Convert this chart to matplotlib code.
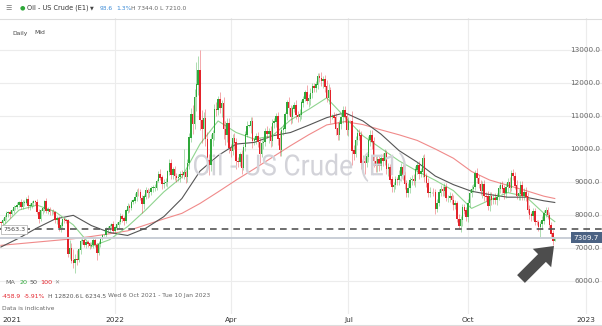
import matplotlib
matplotlib.use("Agg")
import matplotlib.pyplot as plt
from matplotlib.patches import FancyArrow, PathPatch
from matplotlib.lines import Line2D
from matplotlib.textpath import TextPath
from matplotlib.font_manager import FontProperties
from matplotlib.transforms import IdentityTransform, Affine2D, blended_transform_factory
import numpy as np
import pandas as pd

W, H = 602, 326

# daily closes, Wed 6 Oct 2021 .. Thu 8 Dec 2022 (one row = one week)
first_open = 7769
closes = [
    7743, 7830, 7935,
    8052, 8064, 8044, 8131, 8228,
    8244, 8296, 8387, 8250, 8376,
    8376, 8465, 8266, 8281, 8357,
    8405, 8391, 8086, 7881, 8127,
    8193, 8415, 8134, 8159, 8079,
    8088, 8076, 7836, 7901, 7594,
    7675, 7850, 7839, 7830, 6815,
    6995, 6618, 6557, 6650, 6626,
    6949, 7205, 7236, 7094, 7167,
    7129, 7073, 7087, 7238, 7086,
    6861, 7112, 7276, 7379, 7380,
    7557, 7598, 7656, 7699, 7521,
    7608, 7699, 7785, 7946, 7890,
    7823, 8122, 8264, 8212, 8382,
    8430, 8543, 8696, 8690, 8514,
    8331, 8560, 8735, 8661, 8682,
    8815, 8820, 8826, 9027, 9231,
    9132, 8936, 8966, 8988, 9310,
    9546, 9207, 9366, 9176, 9107,
    9150, 9235, 9210, 9281, 9159,
    9572, 10341, 11060, 10767, 11568,
    11940, 12370, 10870, 10602, 10933,
    10301, 9644, 9504, 10298, 10470,
    11212, 11176, 11493, 11234, 11390,
    10596, 10424, 10782, 10028, 9927,
    10328, 10196, 9623, 9603, 9826,
    9429, 10060, 10425, 10695, 10700,
    10821, 10256, 10275, 10379, 10207,
    9854, 10170, 10202, 10536, 10469,
    10517, 10241, 10781, 10826, 10977,
    10309, 9976, 10571, 10613, 11049,
    11420, 11240, 10959, 11221, 11323,
    11029, 10977, 11033, 11409, 11507,
    11700, 11467, 11526, 11687, 11887,
    11850, 11941, 12211, 12151, 12067,
    12093, 11893, 11531, 11759, 10956,
    11000, 10952, 10619, 10427, 10762,
    10957, 11176, 10978, 10576, 10843,
    10840, 9950, 9853, 10273, 10479,
    10409, 9584, 9630, 9578, 9759,
    10260, 10422, 10226, 9635, 9470,
    9670, 9498, 9726, 9642, 9862,
    9389, 9442, 9066, 8854, 8901,
    9076, 9050, 9193, 9434, 9209,
    8941, 8653, 8811, 9050, 9077,
    9023, 9374, 9489, 9252, 9306,
    9701, 9164, 8955, 8661, 8687,
    8690, 8688, 8194, 8354, 8679,
    8778, 8731, 8848, 8510, 8511,
    8573, 8445, 8294, 8349, 7874,
    7671, 7850, 8215, 8123, 7949,
    8363, 8652, 8776, 8845, 9264,
    9113, 8935, 8727, 8911, 8561,
    8546, 8282, 8555, 8451, 8505,
    8458, 8532, 8791, 8908, 8790,
    8653, 8837, 9000, 8817, 9261,
    9179, 8891, 8583, 8647, 8896,
    8587, 8692, 8559, 8164, 8008,
    7973, 8095, 7794, 7780, 7628,
    7724, 7820, 8055, 8122, 7998,
    7693, 7425, 7216, 7310,
]
# wick above the body top / below the body bottom
upper_wick = [
    60, 80, 70,
    60, 70, 90, 50, 60,
    40, 90, 50, 110, 70,
    70, 80, 140, 90, 60,
    50, 60, 90, 110, 60,
    60, 40, 110, 70, 90,
    60, 90, 50, 70, 80,
    120, 70, 60, 50, 40,
    250, 150, 350, 180, 300,
    60, 70, 80, 90, 50,
    80, 60, 90, 50, 70,
    60, 90, 40, 60, 30,
    70, 80, 60, 50, 110,
    60, 80, 70, 110, 90,
    80, 50, 90, 70, 60,
    60, 120, 80, 130, 90,
    90, 80, 110, 70, 120,
    60, 90, 100, 70, 110,
    150, 90, 120, 140, 60,
    160, 140, 80, 120, 90,
    100, 110, 130, 720, 90,
    120, 150, 180, 260, 240,
    700, 450, 620, 300, 200,
    280, 220, 190, 160, 120,
    160, 220, 120, 240, 100,
    200, 240, 170, 160, 130,
    120, 170, 140, 120, 90,
    130, 90, 110, 140, 40,
    160, 140, 90, 120, 130,
    120, 90, 140, 110, 160,
    130, 180, 130, 110, 100,
    140, 230, 110, 130, 80,
    70, 150, 100, 90, 100,
    160, 130, 170, 80, 90,
    80, 230, 140, 150, 100,
    110, 110, 80, 80, 180,
    120, 150, 190, 200, 130,
    60, 120, 150, 200, 120,
    120, 130, 120, 110, 130,
    40, 300, 160, 110, 130,
    120, 140, 190, 130, 120,
    120, 140, 160, 150, 160,
    150, 120, 110, 150, 130,
    120, 140, 110, 120, 110,
    120, 90, 160, 130, 100,
    120, 110, 160, 110, 140,
    180, 120, 130, 150, 120,
    110, 140, 110, 160, 150,
    20, 140, 110, 120, 110,
    120, 90, 120, 130, 110,
    110, 100, 150, 120, 80,
    150, 110, 130, 120, 130,
    120, 150, 140, 90, 110,
    160, 110, 120, 130, 160,
    140, 180, 130, 130, 120,
    150, 140, 110, 90, 130,
    110, 120, 120, 160, 100,
    130, 110, 170, 140, 120,
    120, 120, 170, 140, 130,
    90, 120, 130, 60, 80,
    100, 150, 110, 130, 110,
    90, 80, 110, 34,
]
lower_wick = [
    120, 90, 60,
    80, 110, 130, 40, 70,
    90, 70, 50, 80, 60,
    110, 50, 90, 120, 80,
    90, 80, 70, 120, 60,
    110, 90, 60, 100, 70,
    80, 60, 80, 110, 90,
    110, 60, 80, 60, 90,
    160, 80, 150, 322, 150,
    60, 120, 80, 60, 80,
    110, 90, 70, 80, 60,
    220, 60, 80, 40, 20,
    40, 90, 110, 60, 80,
    110, 60, 80, 70, 90,
    140, 70, 60, 110, 50,
    40, 60, 110, 120, 70,
    260, 150, 80, 140, 110,
    80, 110, 90, 60, 40,
    70, 140, 110, 90, 130,
    110, 120, 130, 110, 100,
    80, 140, 90, 110, 180,
    160, 180, 140, 300, 170,
    420, 310, 300, 420, 250,
    200, 330, 300, 170, 220,
    190, 180, 140, 150, 250,
    300, 300, 200, 140, 160,
    100, 210, 230, 150, 110,
    200, 80, 110, 70, 30,
    200, 220, 140, 120, 160,
    270, 110, 160, 120, 150,
    300, 170, 150, 150, 170,
    200, 180, 200, 140, 120,
    160, 210, 210, 170, 110,
    120, 150, 120, 110, 130,
    50, 100, 180, 180, 140,
    110, 130, 120, 120, 170,
    220, 170, 120, 160, 160,
    40, 160, 200, 160, 150,
    160, 160, 160, 140, 170,
    20, 420, 200, 110, 150,
    150, 200, 150, 340, 130,
    140, 180, 230, 170, 160,
    160, 170, 140, 170, 120,
    160, 210, 130, 160, 150,
    110, 140, 140, 160, 150,
    150, 120, 110, 140, 130,
    120, 170, 130, 160, 100,
    140, 160, 120, 110, 120,
    20, 110, 160, 110, 80,
    100, 140, 160, 80, 120,
    130, 120, 130, 110, 80,
    110, 180, 180, 90, 120,
    160, 130, 110, 90, 80,
    150, 120, 120, 200, 130,
    130, 120, 150, 150, 130,
    120, 160, 80, 120, 130,
    180, 150, 140, 110, 90,
    120, 110, 100, 120, 200,
    140, 120, 120, 110, 130,
    140, 130, 100, 90, 120,
    300, 140, 90, 120, 130,
    120, 90, 130, 6,
]

# moving averages every 10 sessions
ma_idx = list(range(0, 301, 10)) + [306]
ma20 = [7600, 8150, 8300, 8100, 7700, 7050, 7250, 7650, 8150, 8700, 9150,
        10150, 10850, 10500, 10300, 10400, 10880, 11200, 11550, 10970, 10400,
        10020, 9640, 9330, 9050, 8740, 8200, 8450, 8680, 8560, 8050, 7800]
ma50 = [7030, 7300, 7610, 7880, 7990, 7680, 7470, 7380, 7600, 7950, 8500,
        9330, 9800, 10150, 10200, 10400, 10500, 10720, 10950, 11100, 10850,
        10450, 9950, 9600, 9180, 8920, 8720, 8620, 8540, 8540, 8430, 8380]
ma100 = [7080, 7130, 7180, 7230, 7280, 7350, 7430, 7520, 7700, 7880, 8050,
         8350, 8700, 9060, 9400, 9750, 10100, 10430, 10730, 10830, 10740,
         10580, 10430, 10260, 10000, 9720, 9320, 9060, 8900, 8740, 8570, 8500]

tick_dates = ["2022-01-03", "2022-04-01", "2022-07-01", "2022-10-03", "2023-01-02"]
tick_labels = ["2022", "Apr", "Jul", "Oct", "2023"]
price_levels = [6000, 7000, 8000, 9000, 10000, 11000, 12000, 13000]
dashed_level = 7563.3
last_price = 7309.7

GREEN = "#2fa83a"
RED = "#e3232b"
FS = 4.3


def fx(px):
    return px / W


def fy(py):
    return 1 - py / H


closes = np.array(closes, dtype=float)
opens = np.r_[first_open, closes[:-1]]
highs = np.maximum(opens, closes) + np.array(upper_wick)
lows = np.minimum(opens, closes) - np.array(lower_wick)
x = np.arange(len(closes))
up = closes >= opens

dates = pd.bdate_range("2021-10-06", periods=340)
tick_pos = [dates.get_loc(pd.Timestamp(d)) for d in tick_dates]

fig = plt.figure(figsize=(W / 100, H / 100), dpi=100)
ax = fig.add_axes([0, 12 / H, 1, 296 / H])
ax.set_xlim(-0.5, -0.5 + W / 1.81)
ax.set_ylim(5000, 13970)
ax.axis("off")

for lv in price_levels:
    ax.axhline(lv, color="#ececec", lw=0.8, zorder=0)
for p in tick_pos:
    ax.axvline(p, color="#ececec", lw=0.8, zorder=0)

# watermark, fitted to the width it has in the original
tp = TextPath((0, 0), "Oil - US Crude (E1)", size=40, prop=FontProperties(family="Roboto"))
ext = tp.get_extents()
sx = 212 / ext.width
sy = 30 / ext.height
tr = (Affine2D().translate(-ext.x0 - ext.width / 2, -ext.y0 - ext.height / 2)
      .scale(sx, sy).translate(300, H - 167))
fig.add_artist(PathPatch(tr.transform_path(tp), transform=IdentityTransform(),
                         fc="#d3d3d9", ec="none", zorder=0.5))

# moving averages
ax.plot(ma_idx, ma100, color="#f08a8a", lw=0.8, zorder=2)
ax.plot(ma_idx, ma50, color="#555555", lw=0.8, zorder=2)
ax.plot(ma_idx, ma20, color="#8fd48f", lw=0.8, zorder=2)

# candles
cols = np.where(up, GREEN, RED)
ax.vlines(x, lows, highs, colors=cols, lw=0.5, alpha=0.55, zorder=3)
ax.bar(x, np.abs(closes - opens) + 15, bottom=np.minimum(opens, closes), width=0.8,
       color=cols, lw=0, zorder=3.5)

ax.axhline(last_price, color="#c9ced6", lw=1.4, zorder=4)
ax.axhline(dashed_level, color="#555555", lw=1.2, ls=(0, (4, 3)), zorder=4)

fy_t = blended_transform_factory(fig.transFigure, ax.transData)
for lv in price_levels:
    ax.text(fx(600), lv, f"{lv:.1f}", transform=fy_t, fontsize=5.2, color="#666666",
            ha="right", va="center")

ax.text(fx(3), dashed_level, f"{dashed_level:.1f}", transform=fy_t, fontsize=4.6, color="#444444",
        ha="left", va="center", zorder=6,
        bbox=dict(boxstyle="square,pad=0.3", fc="white", ec="#aaaaaa", lw=0.5))
ax.text(fx(599), last_price, f"{last_price:.1f}", transform=fy_t, fontsize=5.2, color="white",
        ha="right", va="center", zorder=6,
        bbox=dict(boxstyle="square,pad=0.35", fc="#4b6283", ec="none"))

# x labels
xt = blended_transform_factory(ax.transData, fig.transFigure)
fig.text(fx(2), fy(320), "2021", fontsize=5.3, color="#333333", ha="left", va="center")
for p, lab in zip(tick_pos, tick_labels):
    ax.text(p, fy(320), lab, transform=xt, fontsize=5.3, color="#333333", ha="center", va="center")

# header
fig.text(fx(5), fy(8), "\u2630", fontsize=5, color="#777777", ha="left", va="center")
fig.text(fx(20), fy(8), "\u25cf", fontsize=4.5, color=GREEN, ha="left", va="center")
fig.text(fx(27), fy(8), "Oil - US Crude (E1)", fontsize=4.7, color="#333333", ha="left", va="center")
fig.text(fx(90), fy(8), "\u25bc", fontsize=3.5, color="#444444", ha="left", va="center")
fig.text(fx(100), fy(8), "93.6", fontsize=FS, color="#3a8ad6", ha="left", va="center")
fig.text(fx(116), fy(8), "1.3%", fontsize=FS, color="#3a8ad6", ha="left", va="center")
fig.text(fx(131), fy(8), "H 7344.0 L 7210.0", fontsize=FS, color="#666666", ha="left", va="center")
fig.text(fx(12), fy(33), "Daily", fontsize=FS, color="#444444", ha="left", va="center")
fig.text(fx(34), fy(33), "Mid", fontsize=FS, color="#444444", ha="left", va="center")
fig.add_artist(Line2D([0, 1], [fy(18.5)] * 2, transform=fig.transFigure, color="#dddddd", lw=0.8))
fig.add_artist(Line2D([0, 1], [fy(325)] * 2, transform=fig.transFigure, color="#dddddd", lw=0.8))

# MA legend and range info
fig.text(fx(5), fy(283), "MA", fontsize=FS + 0.3, color="#666666", ha="left", va="center")
fig.text(fx(20), fy(283), "20", fontsize=FS + 0.3, color=GREEN, ha="left", va="center")
fig.text(fx(30), fy(283), "50", fontsize=FS + 0.3, color="#555555", ha="left", va="center")
fig.text(fx(40), fy(283), "100", fontsize=FS + 0.3, color=RED, ha="left", va="center")
fig.text(fx(54), fy(283), "\u2715", fontsize=4.3, color="#888888", ha="left", va="center")
fig.text(fx(2), fy(296), "-458.9", fontsize=FS, color=RED, ha="left", va="center")
fig.text(fx(24), fy(296), "-5.91%", fontsize=FS, color=RED, ha="left", va="center")
fig.text(fx(48), fy(296), "H 12820.6", fontsize=FS, color="#555555", ha="left", va="center")
fig.text(fx(80), fy(296), "L 6234.5", fontsize=FS, color="#555555", ha="left", va="center")
fig.text(fx(108), fy(296), "Wed 6 Oct 2021 - Tue 10 Jan 2023", fontsize=FS, color="#666666",
         ha="left", va="center")
fig.text(fx(2), fy(308), "Data is indicative", fontsize=FS, color="#666666", ha="left", va="center")

# pointer arrow
fig.add_artist(FancyArrow(521, H - 279, 33, 33, width=11, head_width=26, head_length=17,
                          length_includes_head=True, transform=IdentityTransform(),
                          color="#4d4d4d", lw=0))

fig.savefig("out.png", dpi=100)
